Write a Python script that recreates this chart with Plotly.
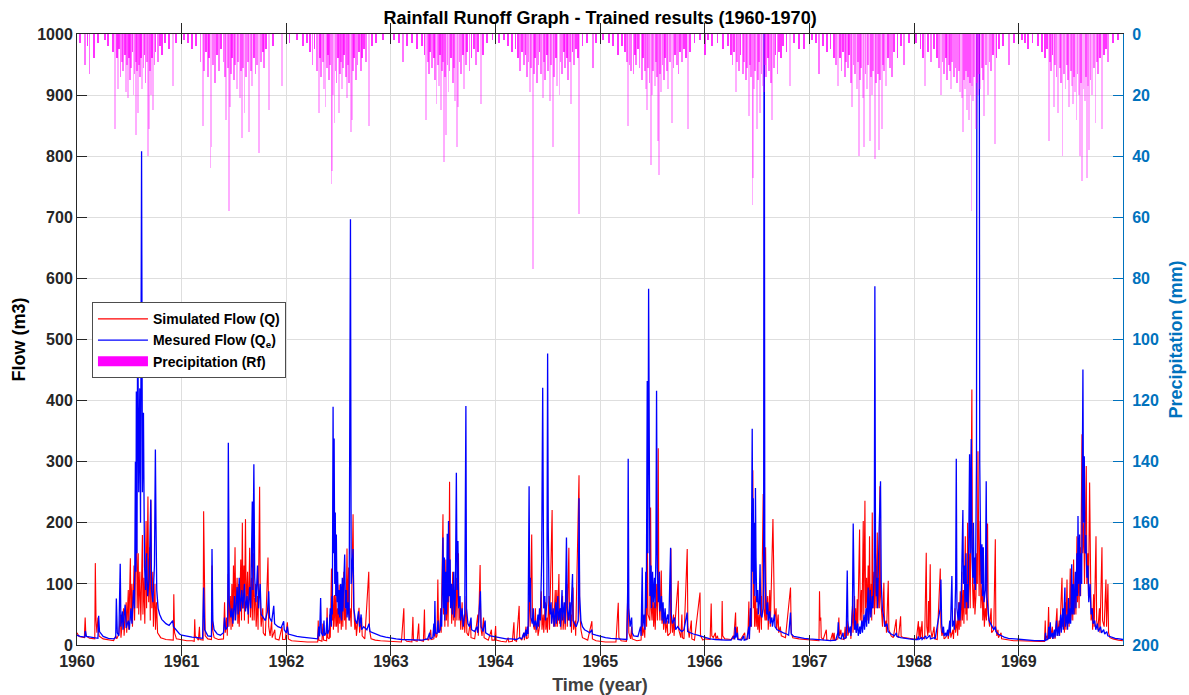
import plotly.graph_objects as go

# ---------------- DATA ----------------
YEAR_TICKS = [1960, 1961, 1962, 1963, 1964, 1965, 1966, 1967, 1968, 1969]
FLOW_TICKS = [0, 100, 200, 300, 400, 500, 600, 700, 800, 900, 1000]
RAIN_TICKS = [0, 20, 40, 60, 80, 100, 120, 140, 160, 180, 200]

# Measured flow (Qe), (decimal year, m3)
MEAS_1960 = [(1960.000, 16), (1960.03, 14), (1960.075, 13), (1960.08, 23), (1960.09, 14), (1960.15, 12), (1960.2, 11),
             (1960.207, 48), (1960.215, 22), (1960.25, 14), (1960.3, 11), (1960.35, 10), (1960.37, 12), (1960.376, 76),
             (1960.385, 20), (1960.40, 15), (1960.413, 133), (1960.42, 30), (1960.435, 55), (1960.44, 25), (1960.46, 66),
             (1960.47, 28), (1960.49, 40), (1960.50, 25), (1960.515, 60), (1960.525, 35), (1960.54, 90), (1960.55, 60),
             (1960.558, 300), (1960.563, 120), (1960.567, 415), (1960.573, 150), (1960.58, 560), (1960.59, 250),
             (1960.6, 420), (1960.607, 200), (1960.617, 808), (1960.625, 250), (1960.635, 380), (1960.645, 130),
             (1960.655, 90), (1960.665, 150), (1960.675, 80), (1960.69, 110), (1960.705, 238), (1960.712, 90),
             (1960.725, 70), (1960.74, 130), (1960.749, 320), (1960.755, 197), (1960.762, 90), (1960.775, 60),
             (1960.79, 50), (1960.81, 42), (1960.83, 38), (1960.85, 35), (1960.88, 32), (1960.915, 40), (1960.922, 30),
             (1960.95, 24), (1960.98, 18)]
MEAS_1961 = [(1961.0, 16), (1961.05, 14), (1961.1, 13), (1961.15, 12), (1961.2, 11), (1961.21, 94), (1961.22, 25),
             (1961.25, 15), (1961.285, 14), (1961.29, 157), (1961.298, 40), (1961.31, 25), (1961.34, 18), (1961.37, 16),
             (1961.4, 20), (1961.41, 45), (1961.42, 25), (1961.44, 30), (1961.446, 331), (1961.455, 70), (1961.47, 45),
             (1961.48, 60), (1961.49, 35), (1961.505, 80), (1961.515, 40), (1961.53, 95), (1961.54, 50), (1961.55, 110),
             (1961.56, 55), (1961.575, 90), (1961.585, 60), (1961.6, 100), (1961.61, 55), (1961.625, 80), (1961.635, 50),
             (1961.65, 95), (1961.66, 60), (1961.675, 235), (1961.68, 90), (1961.69, 296), (1961.698, 110),
             (1961.71, 70), (1961.725, 130), (1961.735, 60), (1961.75, 100), (1961.76, 50), (1961.78, 45), (1961.8, 40),
             (1961.82, 55), (1961.832, 88), (1961.84, 45), (1961.86, 38), (1961.88, 64), (1961.888, 35), (1961.92, 30),
             (1961.95, 28), (1961.975, 39), (1961.98, 25)]
MEAS_1962 = [(1962.0, 20), (1962.01, 30), (1962.02, 18), (1962.05, 16), (1962.1, 14), (1962.15, 13), (1962.2, 12),
             (1962.25, 11), (1962.3, 10), (1962.31, 30), (1962.318, 14), (1962.328, 77), (1962.335, 20), (1962.35, 15),
             (1962.36, 40), (1962.366, 15), (1962.38, 20), (1962.39, 45), (1962.395, 18), (1962.41, 25), (1962.42, 60),
             (1962.43, 30), (1962.435, 80), (1962.44, 50), (1962.447, 390), (1962.452, 150), (1962.457, 338),
             (1962.463, 100), (1962.468, 217), (1962.473, 80), (1962.478, 181), (1962.485, 70), (1962.49, 120),
             (1962.497, 50), (1962.505, 90), (1962.51, 45), (1962.52, 100), (1962.527, 40), (1962.535, 110),
             (1962.54, 55), (1962.558, 148), (1962.565, 60), (1962.575, 90), (1962.58, 45), (1962.59, 70), (1962.6, 40),
             (1962.613, 697), (1962.62, 100), (1962.638, 157), (1962.645, 60), (1962.66, 40), (1962.675, 35),
             (1962.69, 55), (1962.7, 30), (1962.715, 50), (1962.72, 25), (1962.74, 30), (1962.77, 25), (1962.79, 35),
             (1962.8, 22), (1962.85, 18), (1962.9, 15), (1962.95, 13)]
MEAS_1963 = [(1963.0, 11), (1963.05, 10), (1963.1, 9), (1963.15, 9), (1963.2, 8), (1963.3, 8), (1963.35, 10),
             (1963.37, 20), (1963.375, 10), (1963.4, 12), (1963.41, 35), (1963.415, 14), (1963.42, 72), (1963.425, 20),
             (1963.44, 18), (1963.45, 40), (1963.455, 20), (1963.47, 25), (1963.48, 60), (1963.485, 30),
             (1963.497, 176), (1963.503, 60), (1963.51, 143), (1963.515, 40), (1963.523, 120), (1963.53, 50),
             (1963.538, 182), (1963.545, 70), (1963.55, 203), (1963.557, 80), (1963.565, 140), (1963.57, 60),
             (1963.58, 100), (1963.586, 50), (1963.6, 120), (1963.606, 45), (1963.615, 80), (1963.625, 282),
             (1963.632, 90), (1963.64, 170), (1963.647, 60), (1963.66, 80), (1963.665, 40), (1963.68, 60), (1963.69, 30),
             (1963.705, 50), (1963.716, 391), (1963.722, 60), (1963.735, 35), (1963.75, 30), (1963.765, 45),
             (1963.77, 25), (1963.8, 22), (1963.82, 30), (1963.83, 20), (1963.855, 88), (1963.862, 30), (1963.88, 22),
             (1963.9, 40), (1963.905, 20), (1963.95, 15)]
MEAS_1964 = [(1964.0, 13), (1964.05, 11), (1964.1, 10), (1964.15, 10), (1964.2, 9), (1964.23, 12), (1964.25, 10),
             (1964.27, 20), (1964.275, 12), (1964.29, 25), (1964.295, 15), (1964.305, 30), (1964.31, 18), (1964.32, 260),
             (1964.326, 70), (1964.332, 110), (1964.338, 45), (1964.35, 35), (1964.36, 60), (1964.365, 30),
             (1964.38, 40), (1964.39, 25), (1964.405, 50), (1964.41, 30), (1964.42, 60), (1964.428, 40), (1964.44, 140),
             (1964.45, 421), (1964.455, 118), (1964.46, 60), (1964.47, 80), (1964.477, 40), (1964.49, 70),
             (1964.497, 477), (1964.503, 192), (1964.51, 80), (1964.52, 50), (1964.53, 70), (1964.535, 35),
             (1964.55, 60), (1964.56, 30), (1964.575, 70), (1964.58, 35), (1964.595, 80), (1964.6, 40), (1964.615, 60),
             (1964.62, 30), (1964.635, 90), (1964.64, 40), (1964.655, 70), (1964.665, 35), (1964.677, 176),
             (1964.685, 60), (1964.695, 40), (1964.71, 70), (1964.715, 30), (1964.735, 116), (1964.74, 40),
             (1964.755, 35), (1964.77, 30), (1964.79, 40), (1964.797, 240), (1964.803, 80), (1964.815, 40),
             (1964.83, 30), (1964.85, 25), (1964.88, 22), (1964.9, 20), (1964.92, 25), (1964.925, 18), (1964.96, 16)]
MEAS_1965 = [(1965.0, 14), (1965.05, 12), (1965.1, 11), (1965.15, 10), (1965.2, 9), (1965.255, 9), (1965.262, 90),
             (1965.267, 305), (1965.273, 60), (1965.285, 30), (1965.3, 45), (1965.305, 20), (1965.32, 15),
             (1965.36, 14), (1965.385, 30), (1965.39, 15), (1965.401, 127), (1965.407, 30), (1965.42, 50),
             (1965.427, 25), (1965.435, 120), (1965.44, 60), (1965.449, 432), (1965.455, 150), (1965.462, 583),
             (1965.468, 187), (1965.475, 80), (1965.485, 130), (1965.49, 60), (1965.5, 120), (1965.507, 70),
             (1965.518, 110), (1965.524, 60), (1965.532, 150), (1965.538, 416), (1965.545, 127), (1965.555, 70),
             (1965.565, 120), (1965.57, 55), (1965.585, 80), (1965.59, 40), (1965.6, 70), (1965.607, 35), (1965.62, 60),
             (1965.627, 35), (1965.645, 50), (1965.655, 35), (1965.672, 159), (1965.678, 50), (1965.69, 35),
             (1965.71, 45), (1965.72, 25), (1965.74, 30), (1965.76, 25), (1965.78, 22), (1965.8, 25), (1965.83, 53),
             (1965.835, 22), (1965.86, 20), (1965.89, 18), (1965.93, 16), (1965.97, 14)]
MEAS_1966 = [(1966.0, 12), (1966.05, 10), (1966.1, 9), (1966.15, 8), (1966.2, 8), (1966.25, 8), (1966.28, 15),
             (1966.285, 9), (1966.29, 30), (1966.296, 12), (1966.31, 20), (1966.315, 9), (1966.35, 8), (1966.37, 15),
             (1966.375, 8), (1966.4, 9), (1966.42, 30), (1966.425, 10), (1966.435, 60), (1966.44, 30), (1966.446, 235),
             (1966.452, 354), (1966.457, 120), (1966.462, 240), (1966.467, 100), (1966.472, 200), (1966.478, 80),
             (1966.483, 257), (1966.488, 143), (1966.495, 70), (1966.505, 90), (1966.51, 50), (1966.52, 70),
             (1966.527, 132), (1966.533, 50), (1966.545, 45), (1966.555, 60), (1966.561, 100), (1966.566, 1300),
             (1966.572, 150), (1966.58, 83), (1966.59, 50), (1966.6, 70), (1966.605, 40), (1966.62, 55), (1966.625, 35),
             (1966.64, 45), (1966.645, 30), (1966.665, 50), (1966.67, 30), (1966.69, 25), (1966.72, 22), (1966.75, 20),
             (1966.78, 18), (1966.8, 16), (1966.818, 53), (1966.825, 18), (1966.85, 14), (1966.9, 12), (1966.95, 11)]
MEAS_1967 = [(1967.0, 10), (1967.05, 9), (1967.1, 8), (1967.15, 8), (1967.2, 7), (1967.25, 8), (1967.27, 20),
             (1967.274, 37), (1967.28, 12), (1967.3, 10), (1967.32, 20), (1967.325, 10), (1967.35, 12), (1967.36, 122),
             (1967.366, 40), (1967.375, 20), (1967.39, 30), (1967.395, 15), (1967.41, 60), (1967.417, 199),
             (1967.423, 50), (1967.43, 25), (1967.44, 40), (1967.445, 20), (1967.46, 35), (1967.465, 15), (1967.48, 30),
             (1967.485, 18), (1967.5, 40), (1967.505, 20), (1967.52, 50), (1967.525, 25), (1967.54, 60), (1967.545, 30),
             (1967.56, 94), (1967.565, 35), (1967.58, 90), (1967.585, 45), (1967.6, 80), (1967.605, 60), (1967.618, 120),
             (1967.624, 587), (1967.63, 150), (1967.638, 80), (1967.645, 110), (1967.65, 60), (1967.665, 192),
             (1967.672, 250), (1967.678, 268), (1967.685, 100), (1967.695, 60), (1967.71, 45), (1967.72, 30),
             (1967.74, 35), (1967.75, 22), (1967.78, 18), (1967.81, 15), (1967.83, 20), (1967.835, 14), (1967.87, 12),
             (1967.9, 11), (1967.95, 10)]
MEAS_1968 = [(1968.0, 9), (1968.03, 9), (1968.04, 14), (1968.045, 9), (1968.07, 12), (1968.075, 9), (1968.11, 15),
             (1968.115, 10), (1968.15, 16), (1968.155, 10), (1968.19, 12), (1968.2, 10), (1968.248, 60),
             (1968.255, 107), (1968.262, 35), (1968.27, 20), (1968.28, 30), (1968.285, 15), (1968.3, 20),
             (1968.305, 14), (1968.32, 25), (1968.325, 15), (1968.34, 40), (1968.345, 20), (1968.36, 113),
             (1968.366, 30), (1968.38, 40), (1968.385, 25), (1968.396, 100), (1968.402, 305), (1968.408, 60),
             (1968.42, 40), (1968.43, 70), (1968.436, 40), (1968.45, 80), (1968.458, 200), (1968.465, 221),
             (1968.47, 100), (1968.48, 130), (1968.485, 60), (1968.495, 150), (1968.5, 70), (1968.51, 100),
             (1968.515, 60), (1968.524, 200), (1968.529, 312), (1968.535, 150), (1968.545, 337), (1968.55, 160),
             (1968.56, 110), (1968.566, 200), (1968.572, 100), (1968.577, 143), (1968.585, 90), (1968.595, 300),
             (1968.6, 1150), (1968.606, 1050), (1968.61, 1400), (1968.615, 1200), (1968.62, 1300), (1968.626, 300),
             (1968.635, 150), (1968.642, 100), (1968.647, 165), (1968.653, 80), (1968.66, 160), (1968.667, 70),
             (1968.68, 90), (1968.688, 268), (1968.694, 80), (1968.705, 50), (1968.715, 40), (1968.73, 35),
             (1968.745, 30), (1968.76, 25), (1968.775, 30), (1968.78, 22), (1968.8, 18), (1968.83, 15), (1968.86, 13),
             (1968.9, 11), (1968.95, 10)]
MEAS_1969 = [(1969.0, 9), (1969.05, 8), (1969.1, 8), (1969.15, 7), (1969.2, 7), (1969.25, 7), (1969.255, 20),
             (1969.26, 8), (1969.28, 10), (1969.285, 30), (1969.29, 10), (1969.3, 37), (1969.305, 12), (1969.32, 20),
             (1969.325, 10), (1969.34, 25), (1969.345, 12), (1969.36, 40), (1969.365, 15), (1969.38, 30),
             (1969.385, 15), (1969.4, 50), (1969.405, 20), (1969.42, 60), (1969.425, 25), (1969.44, 94), (1969.445, 30),
             (1969.46, 50), (1969.465, 25), (1969.475, 77), (1969.48, 35), (1969.49, 60), (1969.495, 35),
             (1969.505, 132), (1969.51, 50), (1969.52, 100), (1969.525, 50), (1969.54, 120), (1969.545, 60),
             (1969.555, 150), (1969.56, 80), (1969.565, 211), (1969.57, 100), (1969.58, 181), (1969.585, 80),
             (1969.595, 150), (1969.6, 100), (1969.607, 300), (1969.612, 451), (1969.618, 200), (1969.625, 309),
             (1969.632, 150), (1969.64, 180), (1969.65, 110), (1969.66, 130), (1969.668, 70), (1969.68, 100),
             (1969.69, 50), (1969.7, 60), (1969.71, 35), (1969.725, 40), (1969.735, 25), (1969.75, 35), (1969.76, 22),
             (1969.78, 30), (1969.79, 20), (1969.81, 25), (1969.82, 18), (1969.84, 22), (1969.85, 15), (1969.88, 13),
             (1969.92, 11), (1969.96, 10), (1969.995, 9)]

# Simulated flow (Q), (decimal year, m3)
SIM_1960 = [(1960.0, 20), (1960.02, 14), (1960.07, 12), (1960.078, 45), (1960.085, 15), (1960.12, 11), (1960.17, 10),
            (1960.175, 134), (1960.182, 40), (1960.19, 20), (1960.2, 45), (1960.21, 15), (1960.25, 10), (1960.3, 8),
            (1960.35, 7), (1960.37, 15), (1960.38, 10), (1960.40, 18), (1960.415, 50), (1960.42, 12), (1960.445, 60),
            (1960.45, 15), (1960.47, 70), (1960.475, 20), (1960.49, 90), (1960.495, 25), (1960.51, 142),
            (1960.515, 40), (1960.525, 100), (1960.53, 30), (1960.545, 130), (1960.55, 40), (1960.568, 211),
            (1960.575, 60), (1960.585, 150), (1960.59, 50), (1960.60, 120), (1960.61, 40), (1960.625, 180),
            (1960.63, 50), (1960.64, 110), (1960.648, 35), (1960.66, 203), (1960.665, 60), (1960.678, 243),
            (1960.685, 70), (1960.695, 160), (1960.70, 40), (1960.706, 237), (1960.715, 60), (1960.725, 120),
            (1960.73, 30), (1960.745, 100), (1960.75, 25), (1960.76, 70), (1960.77, 20), (1960.80, 12), (1960.85, 9),
            (1960.92, 8), (1960.925, 83), (1960.932, 20), (1960.95, 10)]
SIM_1961 = [(1961.0, 8), (1961.05, 7), (1961.1, 7), (1961.12, 6), (1961.125, 42), (1961.13, 15), (1961.16, 8),
            (1961.17, 30), (1961.175, 9), (1961.205, 8), (1961.21, 219), (1961.217, 40), (1961.225, 15), (1961.25, 10),
            (1961.285, 9), (1961.29, 130), (1961.296, 25), (1961.31, 12), (1961.35, 9), (1961.4, 10), (1961.41, 70),
            (1961.417, 20), (1961.43, 45), (1961.436, 15), (1961.445, 116), (1961.452, 30), (1961.465, 80),
            (1961.472, 25), (1961.48, 100), (1961.487, 30), (1961.495, 130), (1961.5, 40), (1961.51, 160),
            (1961.517, 50), (1961.53, 110), (1961.537, 35), (1961.545, 100), (1961.55, 30), (1961.565, 140),
            (1961.572, 40), (1961.58, 200), (1961.586, 60), (1961.595, 130), (1961.6, 40), (1961.61, 206),
            (1961.617, 60), (1961.63, 120), (1961.637, 35), (1961.65, 159), (1961.657, 45), (1961.668, 110),
            (1961.675, 40), (1961.685, 150), (1961.692, 40), (1961.705, 100), (1961.712, 30), (1961.725, 80),
            (1961.73, 25), (1961.745, 259), (1961.752, 60), (1961.76, 30), (1961.775, 60), (1961.78, 20), (1961.8, 15),
            (1961.825, 143), (1961.832, 30), (1961.845, 15), (1961.86, 40), (1961.865, 12), (1961.89, 25),
            (1961.895, 10), (1961.93, 8), (1961.96, 30), (1961.965, 9), (1961.99, 9)]
SIM_1962 = [(1962.01, 37), (1962.02, 10), (1962.05, 7), (1962.1, 6), (1962.2, 5), (1962.3, 5), (1962.305, 40),
            (1962.31, 8), (1962.34, 6), (1962.35, 35), (1962.355, 8), (1962.385, 7), (1962.39, 61), (1962.395, 12),
            (1962.41, 10), (1962.415, 50), (1962.42, 12), (1962.432, 125), (1962.438, 40), (1962.445, 80),
            (1962.45, 25), (1962.46, 82), (1962.466, 30), (1962.475, 100), (1962.48, 30), (1962.49, 60),
            (1962.495, 20), (1962.505, 99), (1962.51, 35), (1962.52, 70), (1962.525, 25), (1962.535, 80),
            (1962.54, 30), (1962.55, 120), (1962.556, 40), (1962.565, 60), (1962.57, 25), (1962.58, 158),
            (1962.586, 50), (1962.596, 127), (1962.602, 40), (1962.61, 60), (1962.62, 30), (1962.638, 214),
            (1962.645, 60), (1962.655, 25), (1962.665, 40), (1962.67, 15), (1962.69, 45), (1962.695, 61),
            (1962.7, 20), (1962.72, 45), (1962.725, 15), (1962.75, 10), (1962.788, 120), (1962.795, 25),
            (1962.81, 10), (1962.85, 8), (1962.9, 7)]
SIM_1963 = [(1963.0, 6), (1963.05, 5), (1963.1, 5), (1963.123, 60), (1963.128, 10), (1963.15, 6), (1963.2, 5),
            (1963.21, 46), (1963.215, 8), (1963.25, 6), (1963.265, 35), (1963.27, 8), (1963.31, 6), (1963.32, 58),
            (1963.325, 10), (1963.36, 8), (1963.38, 25), (1963.385, 9), (1963.41, 10), (1963.42, 30), (1963.43, 12),
            (1963.44, 15), (1963.448, 107), (1963.455, 25), (1963.465, 20), (1963.475, 60), (1963.48, 20),
            (1963.497, 214), (1963.503, 50), (1963.51, 100), (1963.515, 30), (1963.525, 140), (1963.53, 40),
            (1963.54, 90), (1963.545, 30), (1963.555, 130), (1963.56, 267), (1963.567, 70), (1963.575, 100),
            (1963.58, 35), (1963.59, 120), (1963.596, 40), (1963.607, 90), (1963.612, 30), (1963.625, 110),
            (1963.63, 40), (1963.645, 150), (1963.65, 40), (1963.66, 60), (1963.667, 25), (1963.68, 70),
            (1963.685, 25), (1963.7, 50), (1963.705, 20), (1963.72, 80), (1963.725, 20), (1963.74, 15), (1963.76, 40),
            (1963.765, 12), (1963.8, 10), (1963.83, 50), (1963.835, 15), (1963.852, 131), (1963.858, 30),
            (1963.87, 15), (1963.885, 45), (1963.89, 12), (1963.93, 8), (1963.96, 25), (1963.965, 8), (1963.99, 8)]
SIM_1964 = [(1964.0, 31), (1964.005, 8), (1964.05, 6), (1964.1, 5), (1964.12, 12), (1964.125, 5), (1964.16, 6),
            (1964.175, 37), (1964.18, 8), (1964.2, 6), (1964.225, 64), (1964.23, 12), (1964.25, 8), (1964.27, 20),
            (1964.275, 8), (1964.29, 30), (1964.295, 10), (1964.31, 12), (1964.325, 100), (1964.33, 30),
            (1964.345, 181), (1964.352, 40), (1964.37, 25), (1964.38, 60), (1964.385, 20), (1964.4, 40),
            (1964.405, 15), (1964.42, 30), (1964.437, 88), (1964.443, 25), (1964.455, 50), (1964.46, 20),
            (1964.475, 70), (1964.48, 25), (1964.49, 45), (1964.495, 20), (1964.51, 80), (1964.515, 25),
            (1964.54, 221), (1964.546, 50), (1964.555, 30), (1964.57, 90), (1964.575, 30), (1964.585, 90),
            (1964.59, 30), (1964.605, 116), (1964.61, 35), (1964.62, 60), (1964.625, 25), (1964.64, 80),
            (1964.645, 25), (1964.66, 60), (1964.665, 25), (1964.68, 100), (1964.685, 30), (1964.7, 159),
            (1964.706, 40), (1964.72, 50), (1964.725, 20), (1964.74, 94), (1964.745, 25), (1964.76, 40),
            (1964.765, 15), (1964.797, 278), (1964.803, 60), (1964.815, 25), (1964.83, 12), (1964.88, 8),
            (1964.92, 39), (1964.925, 10), (1964.96, 7)]
SIM_1965 = [(1965.0, 6), (1965.05, 5), (1965.1, 5), (1965.15, 5), (1965.172, 69), (1965.178, 12), (1965.2, 7),
            (1965.25, 6), (1965.267, 107), (1965.273, 20), (1965.29, 10), (1965.3, 30), (1965.305, 10), (1965.35, 7),
            (1965.39, 8), (1965.4, 60), (1965.405, 15), (1965.42, 30), (1965.425, 12), (1965.437, 90), (1965.443, 30),
            (1965.45, 181), (1965.456, 50), (1965.474, 40), (1965.481, 225), (1965.487, 60), (1965.495, 40),
            (1965.505, 90), (1965.51, 30), (1965.52, 70), (1965.525, 25), (1965.54, 100), (1965.546, 40),
            (1965.554, 322), (1965.56, 80), (1965.57, 40), (1965.583, 122), (1965.59, 35), (1965.6, 60),
            (1965.605, 25), (1965.62, 50), (1965.625, 20), (1965.64, 40), (1965.645, 15), (1965.67, 20),
            (1965.675, 158), (1965.68, 40), (1965.69, 20), (1965.7, 50), (1965.705, 15), (1965.745, 105),
            (1965.75, 25), (1965.77, 12), (1965.78, 50), (1965.785, 12), (1965.8, 10), (1965.831, 157),
            (1965.837, 30), (1965.85, 12), (1965.87, 40), (1965.875, 10), (1965.9, 8), (1965.953, 86),
            (1965.958, 15), (1965.98, 8)]
SIM_1966 = [(1966.0, 10), (1966.05, 9), (1966.055, 50), (1966.06, 68), (1966.066, 15), (1966.08, 12), (1966.1, 20),
            (1966.105, 10), (1966.12, 15), (1966.125, 10), (1966.16, 9), (1966.165, 72), (1966.17, 15), (1966.19, 10),
            (1966.25, 9), (1966.27, 15), (1966.275, 9), (1966.293, 53), (1966.298, 15), (1966.31, 30), (1966.315, 10),
            (1966.34, 9), (1966.38, 20), (1966.385, 9), (1966.41, 10), (1966.42, 71), (1966.425, 20), (1966.44, 60),
            (1966.445, 30), (1966.458, 286), (1966.465, 60), (1966.47, 100), (1966.475, 30), (1966.485, 80),
            (1966.49, 30), (1966.5, 60), (1966.505, 25), (1966.515, 50), (1966.52, 20), (1966.535, 80),
            (1966.54, 25), (1966.557, 247), (1966.563, 60), (1966.575, 40), (1966.58, 160), (1966.587, 40),
            (1966.6, 80), (1966.605, 25), (1966.62, 90), (1966.625, 30), (1966.65, 206), (1966.657, 124),
            (1966.665, 40), (1966.68, 60), (1966.685, 25), (1966.7, 50), (1966.705, 20), (1966.72, 30), (1966.73, 15),
            (1966.77, 12), (1966.818, 94), (1966.825, 20), (1966.84, 12), (1966.9, 10), (1966.95, 9)]
SIM_1967 = [(1967.0, 8), (1967.05, 7), (1967.09, 7), (1967.095, 88), (1967.1, 40), (1967.107, 45), (1967.112, 12),
            (1967.13, 9), (1967.16, 25), (1967.165, 8), (1967.2, 7), (1967.22, 20), (1967.225, 8), (1967.235, 20),
            (1967.24, 8), (1967.27, 10), (1967.28, 45), (1967.285, 15), (1967.3, 25), (1967.305, 10), (1967.33, 9),
            (1967.34, 30), (1967.345, 10), (1967.36, 40), (1967.365, 15), (1967.39, 30), (1967.395, 10),
            (1967.41, 64), (1967.415, 20), (1967.43, 80), (1967.435, 25), (1967.44, 60), (1967.448, 20),
            (1967.455, 75), (1967.46, 25), (1967.478, 189), (1967.484, 40), (1967.495, 90), (1967.5, 30),
            (1967.513, 203), (1967.518, 50), (1967.529, 236), (1967.535, 60), (1967.545, 110), (1967.55, 40),
            (1967.56, 130), (1967.566, 40), (1967.573, 178), (1967.58, 50), (1967.59, 100), (1967.594, 40),
            (1967.599, 217), (1967.605, 60), (1967.615, 120), (1967.62, 50), (1967.63, 150), (1967.636, 60),
            (1967.647, 184), (1967.653, 60), (1967.662, 110), (1967.667, 60), (1967.672, 260), (1967.678, 80),
            (1967.69, 50), (1967.697, 30), (1967.71, 102), (1967.716, 30), (1967.73, 40), (1967.735, 20),
            (1967.752, 105), (1967.758, 25), (1967.78, 15), (1967.8, 12), (1967.828, 42), (1967.833, 15),
            (1967.85, 12), (1967.87, 47), (1967.875, 14), (1967.9, 12), (1967.95, 11)]
SIM_1968 = [(1968.0, 10), (1968.02, 9), (1968.04, 39), (1968.045, 12), (1968.055, 30), (1968.06, 10), (1968.075, 39),
            (1968.08, 12), (1968.1, 10), (1968.115, 151), (1968.12, 30), (1968.13, 15), (1968.137, 72),
            (1968.142, 20), (1968.153, 132), (1968.158, 25), (1968.17, 12), (1968.19, 30), (1968.195, 10),
            (1968.22, 9), (1968.249, 125), (1968.255, 30), (1968.265, 15), (1968.28, 25), (1968.285, 10),
            (1968.3, 12), (1968.32, 20), (1968.325, 10), (1968.345, 30), (1968.35, 12), (1968.37, 25), (1968.375, 10),
            (1968.39, 60), (1968.395, 20), (1968.41, 40), (1968.415, 15), (1968.425, 70), (1968.43, 25),
            (1968.44, 88), (1968.445, 30), (1968.455, 120), (1968.46, 40), (1968.47, 90), (1968.475, 35),
            (1968.488, 178), (1968.493, 50), (1968.5, 100), (1968.505, 40), (1968.51, 200), (1968.516, 60),
            (1968.53, 150), (1968.535, 60), (1968.551, 418), (1968.557, 100), (1968.565, 60), (1968.575, 120),
            (1968.58, 50), (1968.59, 80), (1968.597, 150), (1968.603, 100), (1968.609, 317), (1968.615, 100),
            (1968.62, 80), (1968.631, 203), (1968.637, 60), (1968.65, 100), (1968.655, 40), (1968.665, 80),
            (1968.67, 30), (1968.68, 60), (1968.69, 40), (1968.701, 199), (1968.707, 50), (1968.72, 30),
            (1968.735, 60), (1968.74, 20), (1968.76, 25), (1968.775, 173), (1968.78, 30), (1968.79, 15),
            (1968.8, 25), (1968.805, 12), (1968.83, 20), (1968.835, 10), (1968.87, 9), (1968.9, 8), (1968.95, 7)]
SIM_1969 = [(1969.0, 7), (1969.1, 6), (1969.2, 6), (1969.245, 6), (1969.252, 40), (1969.257, 10), (1969.27, 15),
            (1969.275, 8), (1969.284, 62), (1969.29, 15), (1969.3, 10), (1969.32, 30), (1969.325, 10), (1969.34, 25),
            (1969.345, 10), (1969.364, 60), (1969.37, 15), (1969.385, 40), (1969.39, 15), (1969.412, 110),
            (1969.418, 30), (1969.43, 50), (1969.435, 20), (1969.445, 70), (1969.45, 25), (1969.46, 107),
            (1969.466, 35), (1969.475, 60), (1969.48, 30), (1969.491, 125), (1969.497, 40), (1969.51, 80),
            (1969.515, 40), (1969.523, 140), (1969.53, 50), (1969.54, 100), (1969.545, 50), (1969.555, 178),
            (1969.56, 70), (1969.57, 130), (1969.575, 60), (1969.585, 160), (1969.59, 80), (1969.603, 345),
            (1969.61, 150), (1969.62, 200), (1969.627, 100), (1969.644, 293), (1969.65, 100), (1969.66, 150),
            (1969.665, 80), (1969.676, 266), (1969.682, 70), (1969.69, 40), (1969.7, 60), (1969.705, 25),
            (1969.714, 83), (1969.72, 30), (1969.737, 178), (1969.743, 40), (1969.755, 25), (1969.77, 60),
            (1969.775, 20), (1969.794, 160), (1969.8, 40), (1969.815, 30), (1969.832, 107), (1969.838, 30),
            (1969.851, 100), (1969.857, 20), (1969.87, 12), (1969.9, 10), (1969.95, 8), (1969.995, 7)]

# Precipitation (Rf), (decimal year, mm)
RAIN_1960 = [(1960.03, 3), (1960.08, 10), (1960.1, 4), (1960.12, 13), (1960.16, 8), (1960.2, 3), (1960.27, 2),
             (1960.3, 4), (1960.34, 6), (1960.36, 31), (1960.38, 8), (1960.39, 18), (1960.405, 5), (1960.415, 14),
             (1960.43, 9), (1960.44, 12), (1960.455, 7), (1960.47, 19), (1960.48, 10), (1960.49, 21), (1960.5, 8),
             (1960.51, 15), (1960.52, 11), (1960.53, 6), (1960.54, 20), (1960.55, 13), (1960.56, 9), (1960.565, 33),
             (1960.575, 12), (1960.585, 26), (1960.595, 10), (1960.605, 14), (1960.615, 8), (1960.625, 18),
             (1960.635, 11), (1960.645, 7), (1960.655, 16), (1960.665, 9), (1960.68, 40), (1960.685, 31),
             (1960.695, 12), (1960.705, 20), (1960.715, 8), (1960.73, 25), (1960.74, 10), (1960.75, 6), (1960.77, 9),
             (1960.79, 4), (1960.81, 7), (1960.84, 3), (1960.88, 5), (1960.915, 17), (1960.95, 3)]
RAIN_1961 = [(1961.02, 2), (1961.06, 3), (1961.1, 5), (1961.14, 4), (1961.18, 9), (1961.2, 30), (1961.21, 12),
             (1961.23, 6), (1961.25, 14), (1961.265, 8), (1961.275, 44), (1961.285, 37), (1961.3, 10), (1961.32, 16),
             (1961.34, 7), (1961.36, 12), (1961.38, 5), (1961.4, 9), (1961.415, 14), (1961.425, 28), (1961.44, 11),
             (1961.45, 58), (1961.46, 24), (1961.47, 13), (1961.485, 8), (1961.5, 15), (1961.51, 10), (1961.525, 18),
             (1961.54, 9), (1961.555, 21), (1961.565, 12), (1961.575, 34), (1961.59, 11), (1961.6, 26), (1961.615, 14),
             (1961.63, 9), (1961.645, 32), (1961.66, 12), (1961.675, 17), (1961.69, 8), (1961.705, 13), (1961.72, 10),
             (1961.74, 39), (1961.755, 9), (1961.775, 6), (1961.79, 11), (1961.81, 5), (1961.834, 25), (1961.87, 4),
             (1961.96, 17)]
RAIN_1962 = [(1962.03, 3), (1962.1, 2), (1962.16, 4), (1962.2, 3), (1962.23, 6), (1962.25, 10), (1962.27, 5),
             (1962.29, 12), (1962.31, 26), (1962.32, 8), (1962.335, 14), (1962.35, 9), (1962.36, 18), (1962.375, 24),
             (1962.385, 11), (1962.4, 7), (1962.41, 15), (1962.42, 10), (1962.432, 49), (1962.44, 45), (1962.45, 20),
             (1962.46, 29), (1962.47, 12), (1962.48, 16), (1962.49, 8), (1962.5, 26), (1962.51, 13), (1962.52, 9),
             (1962.535, 18), (1962.545, 11), (1962.555, 7), (1962.57, 14), (1962.58, 21), (1962.59, 10), (1962.6, 16),
             (1962.615, 32), (1962.625, 28), (1962.64, 12), (1962.65, 8), (1962.665, 15), (1962.68, 10),
             (1962.695, 6), (1962.71, 12), (1962.725, 8), (1962.74, 5), (1962.76, 9), (1962.79, 30), (1962.82, 4),
             (1962.86, 3), (1962.92, 2)]
RAIN_1963 = [(1963.03, 2), (1963.08, 3), (1963.114, 9), (1963.15, 4), (1963.2, 3), (1963.25, 5), (1963.3, 4),
             (1963.32, 7), (1963.337, 28), (1963.35, 9), (1963.36, 13), (1963.375, 6), (1963.39, 11), (1963.41, 8),
             (1963.42, 15), (1963.435, 23), (1963.45, 10), (1963.46, 17), (1963.47, 7), (1963.48, 25), (1963.49, 12),
             (1963.5, 9), (1963.51, 42), (1963.52, 14), (1963.53, 33), (1963.54, 10), (1963.55, 19), (1963.56, 12),
             (1963.575, 8), (1963.59, 16), (1963.6, 11), (1963.615, 22), (1963.63, 37), (1963.64, 24), (1963.655, 9),
             (1963.67, 13), (1963.685, 7), (1963.7, 18), (1963.715, 10), (1963.73, 6), (1963.75, 12), (1963.77, 8),
             (1963.79, 5), (1963.81, 10), (1963.83, 6), (1963.86, 23), (1963.88, 7), (1963.92, 3), (1963.97, 2)]
RAIN_1964 = [(1964.03, 3), (1964.08, 2), (1964.12, 4), (1964.16, 6), (1964.19, 5), (1964.21, 8), (1964.23, 12),
             (1964.25, 6), (1964.27, 10), (1964.285, 7), (1964.3, 14), (1964.315, 9), (1964.325, 19), (1964.34, 11),
             (1964.357, 77), (1964.37, 13), (1964.38, 8), (1964.395, 16), (1964.41, 10), (1964.42, 6), (1964.435, 13),
             (1964.45, 21), (1964.46, 9), (1964.475, 15), (1964.49, 7), (1964.5, 12), (1964.516, 22), (1964.53, 10),
             (1964.548, 37), (1964.56, 14), (1964.575, 8), (1964.59, 17), (1964.61, 20), (1964.62, 9), (1964.635, 13),
             (1964.65, 6), (1964.665, 11), (1964.68, 8), (1964.695, 15), (1964.71, 9), (1964.72, 23), (1964.735, 6),
             (1964.75, 10), (1964.77, 5), (1964.785, 8), (1964.8, 59), (1964.83, 4), (1964.87, 3), (1964.928, 11),
             (1964.96, 3)]
RAIN_1965 = [(1965.03, 2), (1965.08, 3), (1965.12, 4), (1965.167, 7), (1965.21, 4), (1965.24, 6), (1965.255, 9),
             (1965.267, 30), (1965.28, 10), (1965.295, 12), (1965.317, 13), (1965.33, 7), (1965.345, 10),
             (1965.36, 5), (1965.375, 11), (1965.4, 15), (1965.41, 8), (1965.425, 12), (1965.437, 18), (1965.449, 25),
             (1965.46, 11), (1965.47, 16), (1965.483, 43), (1965.495, 20), (1965.505, 12), (1965.52, 17), (1965.53, 9),
             (1965.54, 14), (1965.549, 35), (1965.559, 46), (1965.57, 13), (1965.58, 19), (1965.595, 10),
             (1965.61, 15), (1965.62, 8), (1965.635, 12), (1965.65, 18), (1965.665, 9), (1965.685, 29), (1965.7, 11),
             (1965.715, 7), (1965.73, 10), (1965.748, 13), (1965.765, 6), (1965.78, 9), (1965.8, 5), (1965.82, 8),
             (1965.838, 31), (1965.855, 6), (1965.9, 3), (1965.95, 2), (1965.997, 7)]
RAIN_1966 = [(1966.03, 2), (1966.07, 4), (1966.12, 3), (1966.17, 5), (1966.22, 4), (1966.25, 7), (1966.263, 10),
             (1966.28, 6), (1966.296, 19), (1966.31, 9), (1966.325, 12), (1966.34, 7), (1966.362, 13), (1966.375, 9),
             (1966.39, 15), (1966.405, 11), (1966.419, 27), (1966.43, 10), (1966.44, 14), (1966.455, 56),
             (1966.462, 47), (1966.472, 18), (1966.482, 12), (1966.495, 31), (1966.505, 15), (1966.515, 9),
             (1966.528, 26), (1966.54, 13), (1966.55, 17), (1966.562, 19), (1966.575, 10), (1966.585, 14),
             (1966.6, 8), (1966.615, 12), (1966.63, 16), (1966.645, 28), (1966.66, 11), (1966.675, 7), (1966.694, 13),
             (1966.71, 6), (1966.73, 8), (1966.75, 4), (1966.78, 6), (1966.81, 17), (1966.85, 3), (1966.9, 5),
             (1966.943, 5)]
RAIN_1967 = [(1967.02, 2), (1967.06, 3), (1967.093, 13), (1967.13, 4), (1967.17, 6), (1967.2, 5), (1967.23, 8),
             (1967.25, 10), (1967.275, 17), (1967.29, 8), (1967.305, 12), (1967.32, 6), (1967.335, 14), (1967.35, 9),
             (1967.365, 11), (1967.38, 7), (1967.395, 16), (1967.408, 24), (1967.42, 10), (1967.435, 13),
             (1967.45, 18), (1967.462, 9), (1967.475, 40), (1967.485, 15), (1967.495, 11), (1967.51, 21),
             (1967.524, 37), (1967.535, 13), (1967.545, 18), (1967.56, 10), (1967.574, 35), (1967.585, 14),
             (1967.6, 20), (1967.61, 12), (1967.624, 41), (1967.635, 16), (1967.65, 13), (1967.664, 38),
             (1967.675, 15), (1967.69, 31), (1967.7, 10), (1967.715, 12), (1967.733, 17), (1967.75, 8), (1967.77, 11),
             (1967.79, 14), (1967.81, 6), (1967.84, 8), (1967.87, 4), (1967.906, 10), (1967.95, 3)]
RAIN_1968 = [(1968.02, 3), (1968.06, 5), (1968.08, 8), (1968.105, 17), (1968.13, 6), (1968.16, 9), (1968.19, 5),
             (1968.22, 8), (1968.24, 11), (1968.255, 20), (1968.27, 9), (1968.285, 13), (1968.3, 8), (1968.315, 15),
             (1968.33, 10), (1968.342, 12), (1968.354, 18), (1968.365, 9), (1968.38, 14), (1968.395, 11),
             (1968.41, 16), (1968.425, 12), (1968.44, 19), (1968.454, 21), (1968.464, 32), (1968.475, 15),
             (1968.485, 18), (1968.495, 12), (1968.504, 25), (1968.512, 14), (1968.52, 28), (1968.53, 16),
             (1968.538, 20), (1968.547, 58), (1968.555, 17), (1968.565, 22), (1968.575, 14), (1968.587, 31),
             (1968.597, 16), (1968.607, 20), (1968.617, 13), (1968.63, 18), (1968.645, 11), (1968.657, 15),
             (1968.67, 27), (1968.685, 10), (1968.703, 20), (1968.72, 9), (1968.735, 12), (1968.75, 7), (1968.77, 36),
             (1968.786, 8), (1968.81, 5), (1968.85, 4), (1968.902, 10), (1968.95, 3)]
RAIN_1969 = [(1969.03, 2), (1969.06, 3), (1969.085, 5), (1969.13, 3), (1969.18, 4), (1969.22, 6), (1969.25, 8),
             (1969.27, 5), (1969.284, 35), (1969.295, 9), (1969.31, 12), (1969.322, 7), (1969.334, 24), (1969.345, 10),
             (1969.36, 14), (1969.377, 26), (1969.39, 11), (1969.405, 16), (1969.417, 40), (1969.43, 13),
             (1969.445, 18), (1969.46, 10), (1969.47, 15), (1969.483, 24), (1969.495, 12), (1969.505, 17),
             (1969.516, 23), (1969.528, 14), (1969.54, 19), (1969.55, 28), (1969.56, 13), (1969.572, 20),
             (1969.583, 40), (1969.595, 16), (1969.606, 48), (1969.617, 18), (1969.628, 22), (1969.638, 14),
             (1969.649, 47), (1969.66, 17), (1969.672, 38), (1969.685, 15), (1969.7, 20), (1969.715, 11),
             (1969.732, 29), (1969.745, 9), (1969.76, 13), (1969.775, 8), (1969.792, 31), (1969.81, 7), (1969.83, 5),
             (1969.848, 9), (1969.9, 3), (1969.95, 2)]

# ---------------- assemble ----------------
measured = (MEAS_1960 + MEAS_1961 + MEAS_1962 + MEAS_1963 + MEAS_1964 + MEAS_1965 + MEAS_1966 + MEAS_1967
            + MEAS_1968 + MEAS_1969)
simulated = (SIM_1960 + SIM_1961 + SIM_1962 + SIM_1963 + SIM_1964 + SIM_1965 + SIM_1966 + SIM_1967
             + SIM_1968 + SIM_1969)
rain = (RAIN_1960 + RAIN_1961 + RAIN_1962 + RAIN_1963 + RAIN_1964 + RAIN_1965 + RAIN_1966 + RAIN_1967
        + RAIN_1968 + RAIN_1969)

# short, frequent rains look saturated in the reference; long isolated bars look pale
rain_opacity = [0.8 if p[1] <= 8 else (0.55 if p[1] <= 16 else 0.32) for p in rain]

AX = "#262626"
BLUE_AX = "#0072BD"
FONT = "Arial, Liberation Sans, Helvetica, sans-serif"

fig = go.Figure()
fig.add_trace(go.Scatter(x=[p[0] for p in simulated], y=[p[1] for p in simulated], mode="lines",
                         line=dict(color="#ff0000", width=1.1), name="Simulated Flow (Q)", yaxis="y"))
fig.add_trace(go.Scatter(x=[p[0] for p in measured], y=[p[1] for p in measured], mode="lines",
                         line=dict(color="#0000ff", width=1.3), name="Mesured Flow (Q<sub>e</sub>)", yaxis="y"))
fig.add_trace(go.Bar(x=[p[0] for p in rain], y=[p[1] for p in rain], width=3 / 365.25,
                     marker=dict(color="#ff00ff", opacity=rain_opacity, line=dict(width=0)),
                     yaxis="y2", showlegend=False, name="Precipitation (Rf)"))
fig.add_trace(go.Scatter(x=[None], y=[None], mode="lines", line=dict(color="#ff00ff", width=14),
                         name="Precipitation (Rf)", yaxis="y"))

fig.update_layout(
    template="none",
    width=1189, height=695,
    margin=dict(l=77, r=66, t=34, b=50, autoexpand=False),
    paper_bgcolor="white", plot_bgcolor="white",
    font=dict(family=FONT, size=16, color=AX),
    title=dict(text="Rainfall Runoff Graph - Trained results (1960-1970)", x=0.5047, xanchor="center",
               y=0.975, yanchor="middle", font=dict(size=18, color="#000000", weight="bold")),
    showlegend=True,
    legend=dict(x=0.0143, y=0.561, xanchor="left", yanchor="top", bgcolor="white", bordercolor="#4d4d4d",
                borderwidth=1, font=dict(size=14, color="#000000", weight="bold"), itemwidth=50,
                traceorder="normal", tracegroupgap=0),
    bargap=0,
    xaxis=dict(range=[1960, 1969.995], tickmode="array", tickvals=YEAR_TICKS,
               ticktext=[str(v) for v in YEAR_TICKS], ticks="inside", ticklen=10, tickcolor=AX,
               showline=True, linecolor=AX, linewidth=1, mirror="allticks", showgrid=True,
               gridcolor="#dedede", gridwidth=1, zeroline=False, automargin=False, ticklabelstandoff=2,
               tickfont=dict(size=16, color=AX, weight="bold"),
               title=dict(text="Time (year)", font=dict(size=18, color="#404040", weight="bold"), standoff=10)),
    yaxis=dict(range=[0, 1000], tickmode="array", tickvals=FLOW_TICKS, ticks="inside", ticklen=10,
               tickcolor=AX, showline=True, linecolor=AX, linewidth=1, showgrid=True, gridcolor="#dedede",
               gridwidth=1, zeroline=False, automargin=False,
               tickfont=dict(size=16, color=AX, weight="bold"),
               title=dict(text="Flow (m3)", font=dict(size=18, color="#000000", weight="bold"), standoff=6)),
    yaxis2=dict(range=[200, 0], tickmode="array", tickvals=RAIN_TICKS, overlaying="y", side="right",
                ticks="inside", ticklen=10, tickcolor=BLUE_AX, showline=True, linecolor=BLUE_AX, linewidth=1,
                showgrid=False, zeroline=False, automargin=False, ticklabelstandoff=5,
                tickfont=dict(size=16, color=BLUE_AX, weight="bold"),
                title=dict(text="Precipitation (mm)", font=dict(size=18, color=BLUE_AX, weight="bold"),
                           standoff=11)),
)

fig.write_html("out.html", config={"displayModeBar": False},
               post_script="document.body.style.margin='0';")
